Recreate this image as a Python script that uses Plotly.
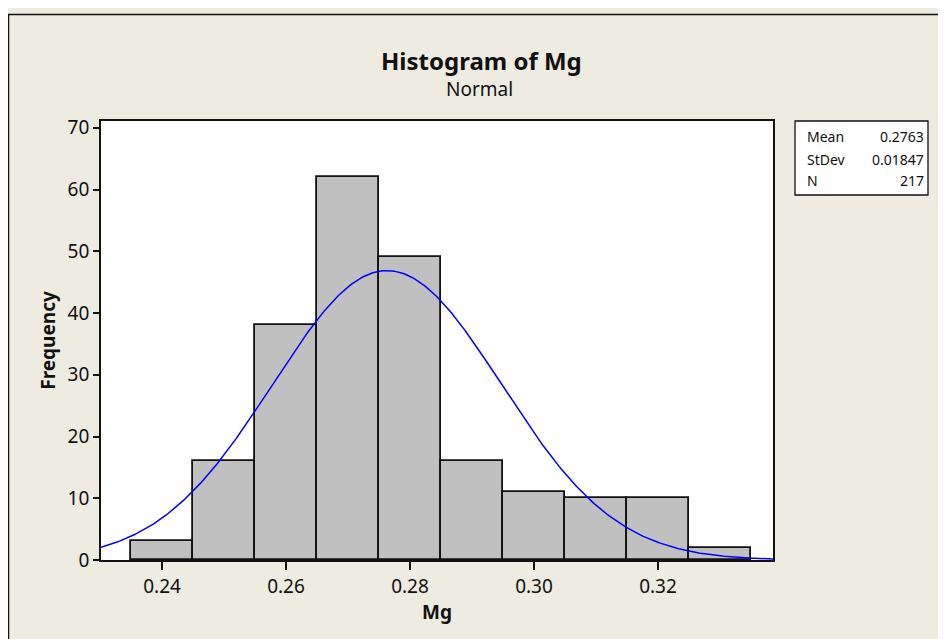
import numpy as np
import plotly.graph_objects as go

# Data
bin_centers = [0.24, 0.25, 0.26, 0.27, 0.28, 0.29, 0.30, 0.31, 0.32, 0.33]
counts = [3, 16, 38, 62, 49, 16, 11, 10, 10, 2]
bin_width = 0.01
mean_val = 0.2763
sd_val = 0.01847
n_val = 217
x_ticks = [0.24, 0.26, 0.28, 0.30, 0.32]
x_tick_labels = ["0.24", "0.26", "0.28", "0.30", "0.32"]
y_ticks = [0, 10, 20, 30, 40, 50, 60, 70]

x_range = [0.23016, 0.33855]
y_range = [0, 71.1]

# Fitted normal curve scaled to counts
xc = np.linspace(x_range[0], x_range[1], 400)
yc = n_val * bin_width / (sd_val * np.sqrt(2 * np.pi)) * np.exp(-0.5 * ((xc - mean_val) / sd_val) ** 2)

FONT = "Noto Sans"
BG = "#EEEBE1"
INK = "#111111"

fig = go.Figure()
fig.add_trace(go.Bar(
    x=bin_centers, y=counts, width=bin_width,
    marker=dict(color="#C0C0C0", line=dict(color=INK, width=1.8)),
    hoverinfo="x+y", showlegend=False,
))
fig.add_trace(go.Scatter(
    x=xc, y=yc, mode="lines", line=dict(color="#0000FF", width=1.5),
    showlegend=False, cliponaxis=True,
))

fig.update_layout(
    width=946, height=639,
    margin=dict(l=93, r=181, t=113, b=87),
    paper_bgcolor=BG, plot_bgcolor="white",
    font=dict(family=FONT, color=INK),
    bargap=0,
    xaxis=dict(
        range=x_range, tickvals=x_ticks, ticktext=x_tick_labels,
        ticks="outside", ticklen=8, tickwidth=1.8, tickcolor=INK,
        showgrid=False, zeroline=False,
        showline=True, linecolor=INK, linewidth=1.8, mirror=True,
        tickfont=dict(size=19, family=FONT),
        title=dict(text="<b>Mg</b>", font=dict(size=19, family=FONT), standoff=5),
    ),
    yaxis=dict(
        range=y_range, tickvals=y_ticks,
        ticks="outside", ticklen=6, tickwidth=1.8, tickcolor=INK,
        showgrid=False, zeroline=False,
        showline=True, linecolor=INK, linewidth=1.8, mirror=True,
        tickfont=dict(size=19, family=FONT),
        title=dict(text="<b>Frequency</b>", font=dict(size=19, family=FONT), standoff=7),
    ),
)

# Helpers: screenshot pixel -> paper coords (plot area 101..773 x, 121..560 y on screen)
def px_to_paper_x(px):
    return (px - 101) / 672.0

def py_to_paper_y(py):
    return (560 - py) / 439.0

# Title and subtitle
fig.add_annotation(xref="paper", yref="paper", x=px_to_paper_x(481), y=py_to_paper_y(60),
                   text="<b>Histogram of Mg</b>", showarrow=False, xanchor="center", yanchor="middle",
                   font=dict(size=24, family=FONT, color=INK))
fig.add_annotation(xref="paper", yref="paper", x=px_to_paper_x(479), y=py_to_paper_y(89),
                   text="Normal", showarrow=False, xanchor="center", yanchor="middle",
                   font=dict(size=19, family=FONT, color=INK))

# Figure frame (top and left border lines)
fig.add_shape(type="rect", xref="paper", yref="paper",
              x0=px_to_paper_x(8.5), x1=2.0, y0=-1.0, y1=py_to_paper_y(14.5),
              line=dict(color=INK, width=1.5), fillcolor="rgba(0,0,0,0)", layer="below")

# Stats box
fig.add_shape(type="rect", xref="paper", yref="paper",
              x0=px_to_paper_x(795), x1=px_to_paper_x(928),
              y0=py_to_paper_y(195), y1=py_to_paper_y(121),
              line=dict(color=INK, width=1.3), fillcolor="white")

stat_labels = ["Mean", "StDev", "N"]
stat_values = ["0.2763", "0.01847", "217"]
row_y = [137, 159, 180]
for lab, val, ry in zip(stat_labels, stat_values, row_y):
    fig.add_annotation(xref="paper", yref="paper", x=px_to_paper_x(805), y=py_to_paper_y(ry),
                       text=lab, showarrow=False, xanchor="left", yanchor="middle",
                       font=dict(size=14, family=FONT, color=INK))
    fig.add_annotation(xref="paper", yref="paper", x=px_to_paper_x(926), y=py_to_paper_y(ry),
                       text=val, showarrow=False, xanchor="right", yanchor="middle",
                       font=dict(size=14, family=FONT, color=INK))

fig.write_html("out.html")
